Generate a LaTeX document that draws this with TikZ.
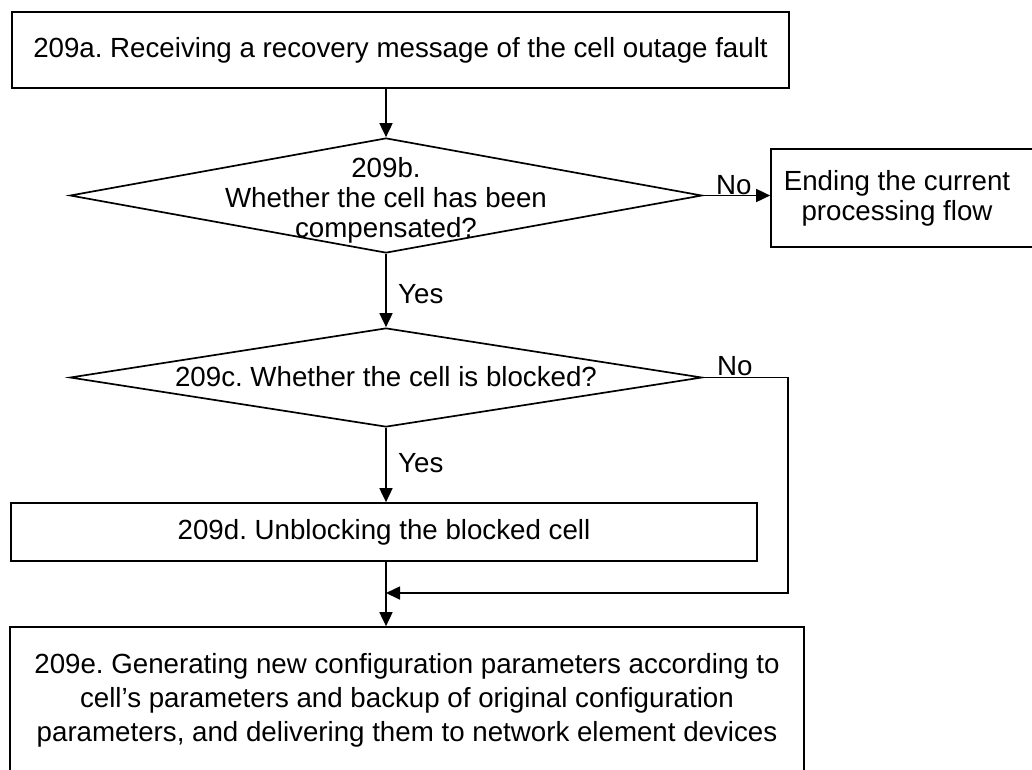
\documentclass[tikz,border=0pt]{standalone}
\usepackage{fontspec}
\setmainfont{Liberation Sans}
\usetikzlibrary{shapes.geometric,arrows.meta,calc}
\frenchspacing
\begin{document}
\begin{tikzpicture}[x=1pt,y=-1pt,
  every node/.style={font=\fontsize{27.7pt}{30pt}\selectfont},
  box/.style={draw,line width=1.7pt,rectangle,inner sep=0pt},
  dia/.style={draw,line width=1.7pt,diamond,inner sep=0pt},
  arr/.style={line width=1.7pt,-{Triangle[length=14pt,width=13pt]}},
  lbl/.style={inner sep=0pt,align=center},
  yn/.style={inner sep=0pt}]
\useasboundingbox (0,0) rectangle (1032,769);
\clip (0,0) rectangle (1032,769);

\node[box, minimum width=777pt, minimum height=76pt] (a) at (400.5,50) {209a. Receiving a recovery message of the cell outage fault};

\node[dia, minimum width=632pt, minimum height=115pt] (b) at (386,195.5) {};
\node[lbl] (bt) at (386,200) {209b.\\Whether the cell has been\\compensated?};

\node[box, minimum width=270pt, minimum height=98pt] (f) at (906,198) {};
\node[lbl] (ft) at (897,198) {Ending the current\\processing flow};

\node[dia, minimum width=632pt, minimum height=99pt] (c) at (386,377.5) {};
\node[lbl] (ct) at (386,377) {209c. Whether the cell is blocked?};

\node[box, minimum width=746pt, minimum height=58pt] (d) at (384,532) {209d. Unblocking the blocked cell};

\node[box, minimum width=794pt, minimum height=180pt] (e) at (407,717) {};
\node[lbl, font=\fontsize{27.7pt}{34pt}\selectfont] (et) at (407,700) {209e. Generating new configuration parameters according to\\cell’s parameters and backup of original configuration\\parameters, and delivering them to network element devices};

\coordinate (m) at (386,593);

\draw[arr] (a.south -| b.north) -- (b.north);
\draw[arr] (b.east) -- (b.east -| f.west);
\node[yn, anchor=base west] (no1) at (716,194) {No};
\draw[arr] (b.south) -- (c.north);
\node[yn, anchor=west] (yes1) at (398,294) {Yes};
\draw[arr] (c.south) -- (c.south |- d.north);
\node[yn, anchor=west] (yes2) at (398,463) {Yes};
\node[yn, anchor=base west] (no2) at (717,375) {No};
\draw[arr] (c.east) -- ++(85,0) |- (m);
\draw[arr] (c.south |- d.south) -- (c.south |- e.north);
\end{tikzpicture}
\end{document}
